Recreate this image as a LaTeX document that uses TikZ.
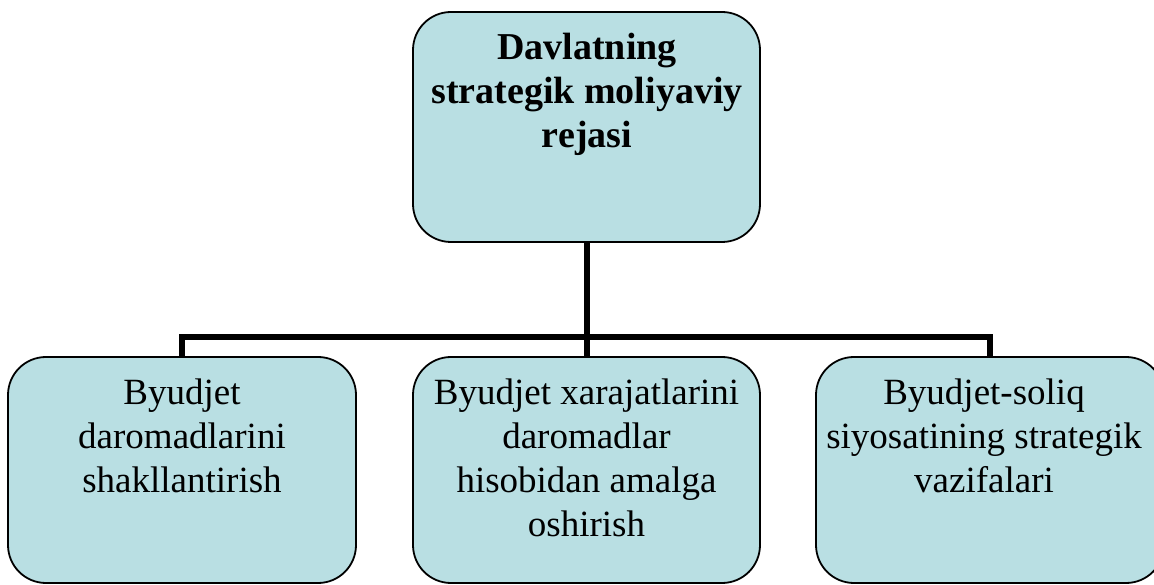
\documentclass[tikz,border=0pt]{standalone}
\usepackage{fontspec}
\setmainfont{Liberation Serif}
\begin{document}
\begin{tikzpicture}[x=1pt,y=1pt,
  box/.style={draw=black, line width=1.8pt, fill=boxfill, rounded corners=38pt, inner sep=0pt},
  txt/.style={anchor=north, align=center, inner sep=0pt, font=\fontsize{37}{44}\selectfont},
  conn/.style={line width=6pt}]
\definecolor{boxfill}{RGB}{185,223,227}
\useasboundingbox (0,0) rectangle (1154,584);
\begin{scope}
\clip (0,0) rectangle (1154,584);
\node[box, minimum width=347pt, minimum height=230pt] (top) at (586.5,457) {};
\node[box, minimum width=348pt, minimum height=226pt] (left) at (182,114) {};
\node[box, minimum width=347pt, minimum height=226pt] (mid) at (586.5,114) {};
\node[box, minimum width=348pt, minimum height=226pt] (right) at (990,114) {};

\node[txt, font=\fontsize{38}{44}\selectfont\bfseries] (ttop) at (587,551) {Davlatning\\strategik moliyaviy\\rejasi};
\node[txt] (tleft) at (182,205) {Byudjet\\daromadlarini\\shakllantirish};
\node[txt] (tmid) at (586.5,205) {Byudjet xarajatlarini\\daromadlar\\hisobidan amalga\\oshirish};
\node[txt] (tright) at (984,205) {Byudjet-soliq\\siyosatining strategik\\vazifalari};

\coordinate (hj) at (586.5,247);
\draw[conn] (top.south) -- (hj);
\draw[conn] (left.north) |- (hj) -| (right.north);
\draw[conn] (hj) -- (mid.north);
\end{scope}
\end{tikzpicture}
\end{document}
